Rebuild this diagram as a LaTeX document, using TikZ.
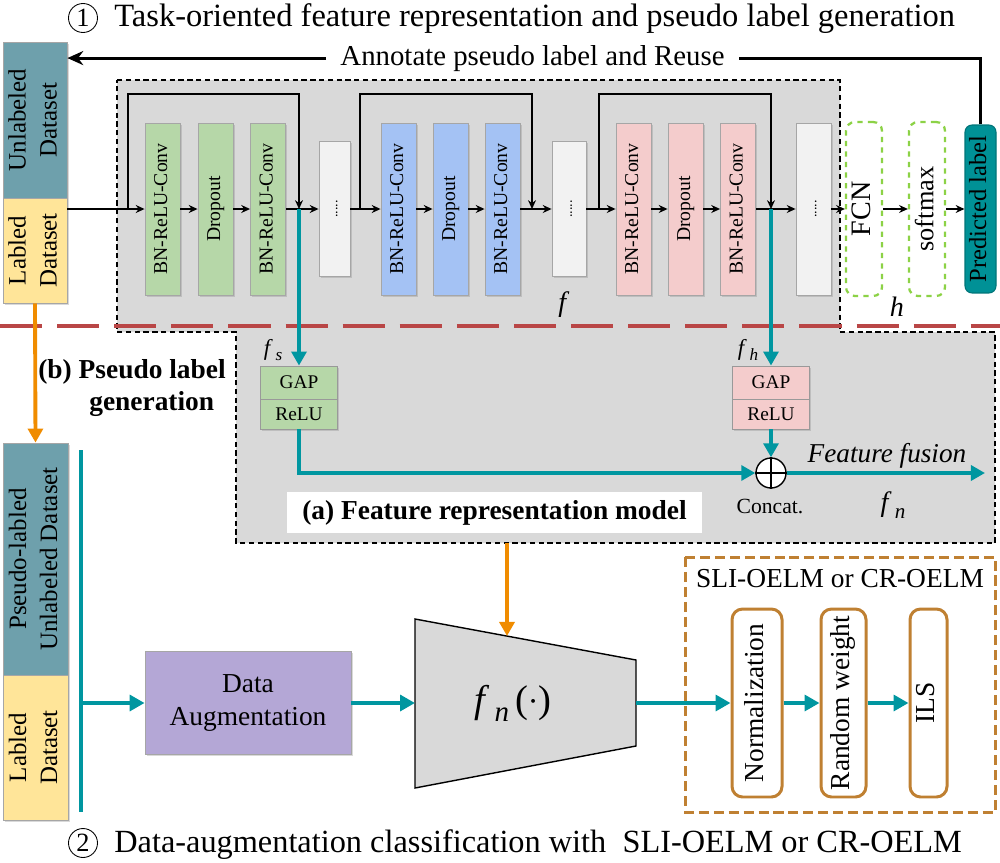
\documentclass[tikz,border=0pt]{standalone}
\usepackage{fontspec}
\usepackage{graphicx}
\setmainfont{Liberation Serif}
\usetikzlibrary{arrows.meta,shadows}
\definecolor{gr}{RGB}{217,217,217}
\definecolor{lgreen}{RGB}{182,215,168}
\definecolor{lblue}{RGB}{164,194,244}
\definecolor{lpink}{RGB}{244,204,204}
\definecolor{lwhite}{RGB}{242,242,242}
\definecolor{teal1}{RGB}{0,150,160}
\definecolor{dteal}{RGB}{110,160,172}
\definecolor{yel}{RGB}{255,229,153}
\definecolor{pred}{RGB}{0,145,150}
\definecolor{orng}{RGB}{240,140,0}
\definecolor{brwn}{RGB}{191,128,50}
\definecolor{redd}{RGB}{185,70,70}
\definecolor{purp}{RGB}{180,167,214}
\definecolor{fgreen}{RGB}{140,210,70}
\newcommand\rt[1]{\rotatebox{90}{\begin{tabular}{@{}c@{}}#1\end{tabular}}}
\newcommand\fsb[2]{\textit{#1}\kern0.12em\raisebox{-0.5ex}{\scalebox{0.75}{\textit{#2}}}}
\begin{document}
\begin{tikzpicture}[x=0.02cm,y=-0.02cm,
  every node/.style={inner sep=0pt},
  shd/.style={drop shadow={opacity=0.3,shadow xshift=0.9pt,shadow yshift=-0.9pt}},
  blk/.style={draw=black!35,line width=0.5pt,minimum width=0.7cm,minimum height=3.44cm,shd,font=\fontsize{11.2}{13}\selectfont},
  dotsb/.style={blk,fill=lwhite,minimum width=0.62cm,minimum height=2.7cm,font=\fontsize{8}{8}\selectfont},
  hbox/.style={draw=fgreen,dashed,line width=1.3pt,rounded corners=5pt,fill=white,minimum width=0.72cm,minimum height=3.48cm,font=\fontsize{16}{18}\selectfont},
  ds/.style={draw=black!35,line width=0.5pt,minimum width=1.28cm,shd,font=\fontsize{14.2}{17.6}\selectfont},
  gapb/.style={draw=black!40,line width=0.5pt,minimum width=1.54cm,shd,font=\fontsize{11}{13}\selectfont},
  elm/.style={draw=brwn,line width=1.7pt,rounded corners=6pt,minimum height=3.76cm,fill=white,font=\fontsize{15.6}{18}\selectfont},
  arr/.style={line width=0.8pt,-{Stealth[length=5pt,width=4.5pt]}},
  tarr/.style={draw=teal1,line width=2.2pt,-{Triangle[length=8pt,width=8.5pt]}},
  tbig/.style={draw=teal1,line width=2.8pt,-{Triangle[length=8.5pt,width=9pt]}},
  oarr/.style={draw=orng,line width=2.2pt,-{Triangle[length=8pt,width=8.5pt]}},
]
\useasboundingbox (0,0) rectangle (1000,862);
% feature model region
\draw[fill=gr,line width=0.6pt,dash pattern=on 3pt off 2pt] (117,80) -- (840,80) -- (840,332) -- (995,332) -- (995,543) -- (236,543) -- (236,332) -- (117,332) -- cycle;
\draw[redd,line width=2.8pt,dash pattern=on 24pt off 8.5pt] (0,326) -- (1000,326);

% titles
\node[circle,draw,line width=0.5pt,minimum size=0.58cm,font=\fontsize{15}{15}\selectfont] (c1) at (83,18) {1};
\node[anchor=base west,font=\fontsize{18.5}{22}\selectfont] (t1) at (114,27) {Task-oriented feature representation and pseudo label generation};
\node[circle,draw,line width=0.5pt,minimum size=0.58cm,font=\fontsize{15}{15}\selectfont] (c2) at (83,843) {2};
\node[anchor=base west,font=\fontsize{18.4}{22}\selectfont] (t2) at (114,852) {Data-augmentation classification with\ \ SLI-OELM or CR-OELM};

% datasets
\node[ds,fill=dteal,minimum height=3.12cm] (unl) at (35,120) {\rt{Unlabeled\\Dataset}};
\node[ds,fill=yel,minimum height=2.1cm] (lab) at (35,250.5) {\rt{Labled\\Dataset}};
\node[ds,fill=dteal,minimum width=1.3cm,minimum height=4.64cm] (pl) at (35.5,559) {\rt{Pseudo-labled\\Unlabeled Dataset}};
\node[ds,fill=yel,minimum width=1.3cm,minimum height=2.9cm] (lab2) at (35.5,747.5) {\rt{Labled\\Dataset}};

% blocks
\node[blk,fill=lgreen] (g1) at (162.5,209) {\rt{BN-ReLU-Conv}};
\node[blk,fill=lgreen] (g2) at (215.5,209) {\rt{Dropout}};
\node[blk,fill=lgreen] (g3) at (268,209) {\rt{BN-ReLU-Conv}};
\node[dotsb] (w1) at (334.5,209) {\rt{.....}};
\node[blk,fill=lblue] (b1) at (398.5,209) {\rt{BN-ReLU-Conv}};
\node[blk,fill=lblue] (b2) at (450.5,209) {\rt{Dropout}};
\node[blk,fill=lblue] (b3) at (502.5,209) {\rt{BN-ReLU-Conv}};
\node[dotsb,minimum width=0.68cm] (w2) at (569,209) {\rt{.....}};
\node[blk,fill=lpink] (p1) at (633.5,209) {\rt{BN-ReLU-Conv}};
\node[blk,fill=lpink] (p2) at (685.5,209) {\rt{Dropout}};
\node[blk,fill=lpink] (p3) at (738,209) {\rt{BN-ReLU-Conv}};
\node[dotsb,minimum width=0.7cm,minimum height=3.44cm] (w3) at (813.5,209) {\rt{.....}};
\node[hbox] (fcn) at (864,209) {\rt{FCN}};
\node[hbox,font=\fontsize{15}{18}\selectfont] (sm) at (927,209) {\rt{softmax}};
\node[draw=pred!80!black,fill=pred,line width=0.6pt,rounded corners=4pt,minimum width=0.62cm,minimum height=3.36cm,font=\fontsize{14}{16}\selectfont] (pr) at (980.5,209) {\rt{Predicted label}};

% main chain
\draw[arr] (lab.east |- g1.west) -- (g1.west);
\draw[arr] (g1) -- (g2);
\draw[arr] (g2) -- (g3);
\draw[arr] (g3) -- (w1);
\draw[arr] (w1) -- (b1);
\draw[arr] (b1) -- (b2);
\draw[arr] (b2) -- (b3);
\draw[arr] (b3) -- (w2);
\draw[arr] (w2) -- (p1);
\draw[arr] (p1) -- (p2);
\draw[arr] (p2) -- (p3);
\draw[arr] (p3) -- (w3);
\draw[arr] (w3) -- (fcn);
\draw[arr] (fcn) -- (sm);
\draw[arr] (sm) -- (pr);

% skip connections
\coordinate (s1a) at (128,209); \coordinate (s1b) at (299,209);
\coordinate (s2a) at (360,209); \coordinate (s2b) at (532,209);
\coordinate (s3a) at (599,209); \coordinate (s3b) at (771,209);
\draw[arr] (s1a) -- ++(0,-115) -| (s1b);
\draw[arr] (s2a) -- ++(0,-115) -| (s2b);
\draw[arr] (s3a) -- ++(0,-115) -| (s3b);

% annotate
\node[anchor=base,inner xsep=8pt,font=\fontsize{16.4}{19}\selectfont] (ann) at (532.5,65) {Annotate pseudo label and Reuse};
\draw[line width=1.7pt] (pr.north) |- (ann.east);
\draw[line width=1.7pt,-{Stealth[length=9pt,width=8pt]}] (ann.west) -- (unl.east |- ann.west);

% labels f, h
\node[font=\fontsize{16}{16}\selectfont] (lf) at (564,305) {\textit{f}};
\node[font=\fontsize{16}{16}\selectfont] (lh) at (897,307) {\textit{h}};

% GAP boxes
\node[gapb,fill=lgreen,minimum height=0.66cm] (gapA) at (299,382.5) {GAP};
\node[gapb,fill=lgreen,minimum height=0.6cm] (reluA) at (299,414) {ReLU};
\node[gapb,fill=lpink,minimum height=0.66cm] (gapB) at (771,382.5) {GAP};
\node[gapb,fill=lpink,minimum height=0.6cm] (reluB) at (771,414) {ReLU};
\node[font=\fontsize{13}{13}\selectfont] (lfs) at (273,350) {\fsb{f}{s}};
\node[font=\fontsize{13}{13}\selectfont] (lfh) at (748,350) {\fsb{f}{h}};
\draw[tarr] (s1b) -- (gapA.north);
\draw[tarr] (s3b) -- (gapB.north);

% concat
\node[circle,draw,line width=0.8pt,fill=white,minimum size=0.6cm] (cat) at (771,473) {};
\draw[line width=0.8pt] (cat.north) -- (cat.south) (cat.west) -- (cat.east);
\draw[tarr] (reluA.south) |- (cat.west);
\draw[tarr] (reluB.south) -- (cat.north);
\coordinate (ffend) at (985,473);
\draw[tarr] (cat.east) -- (ffend);
\node[anchor=base,font=\fontsize{15.5}{18}\selectfont] (ff) at (887,462) {\textit{Feature fusion}};
\node[anchor=base,font=\fontsize{12.3}{14}\selectfont] (cc) at (770,513) {Concat.};
\node[font=\fontsize{16}{16}\selectfont] (lfn) at (893,505) {\fsb{f}{n}};
\node[fill=white,minimum width=8.3cm,minimum height=0.82cm,font=\fontsize{15.6}{18}\selectfont\bfseries] (am) at (494.5,512.5) {(a) Feature representation model};
\node[anchor=base west,align=left,font=\fontsize{15.6}{18}\selectfont\bfseries] (bl) at (38,410) {(b) Pseudo label\\\hspace*{29pt}generation};

% pseudo label arrow
\draw[oarr] (lab.south) -- (pl.north);

% bottom part
\coordinate (tb1) at (81,450); \coordinate (tb2) at (81,812); \coordinate (tbm) at (81,703);
\draw[teal1,line width=2.8pt] (tb1) -- (tb2);
\node[draw=black!35,fill=purp,line width=0.5pt,minimum width=4.12cm,minimum height=2.06cm,align=center,shd,font=\fontsize{15.6}{19}\selectfont] (da) at (248,703) {Data\\Augmentation};
\draw[tbig] (tbm) -- (da.west);
\draw[fill=gr,line width=0.8pt] (415,619) -- (636,660) -- (636,746) -- (415,788) -- cycle;
\coordinate (trL) at (415,703); \coordinate (trR) at (636,703); \coordinate (trT) at (507,636);
\node[font=\fontsize{22}{22}\selectfont] (fn) at (513,703) {\fsb{f}{n}\,(\raisebox{0.1ex}{$\cdot$})};
\draw[tbig] (da.east) -- (trL);
\coordinate (rb) at (507,543);
\draw[oarr] (rb) -- (trT);

% ELM
\draw[brwn,line width=1.7pt,dash pattern=on 5.7pt off 2.8pt] (685,557) rectangle (995,812);
\node[anchor=base,font=\fontsize{15.6}{18}\selectfont] (elmt) at (840,587) {SLI-OELM or CR-OELM};
\node[elm,minimum width=1cm] (nrm) at (757,703) {\rt{Normalization}};
\node[elm,minimum width=0.9cm] (rw) at (843.5,703) {\rt{Random weight}};
\node[elm,minimum width=0.74cm] (ils) at (928.5,703) {\rt{ILS}};
\draw[tbig] (trR) -- (nrm.west);
\draw[tbig] (nrm.east) -- (rw.west);
\draw[tbig] (rw.east) -- (ils.west);
\end{tikzpicture}
\end{document}
